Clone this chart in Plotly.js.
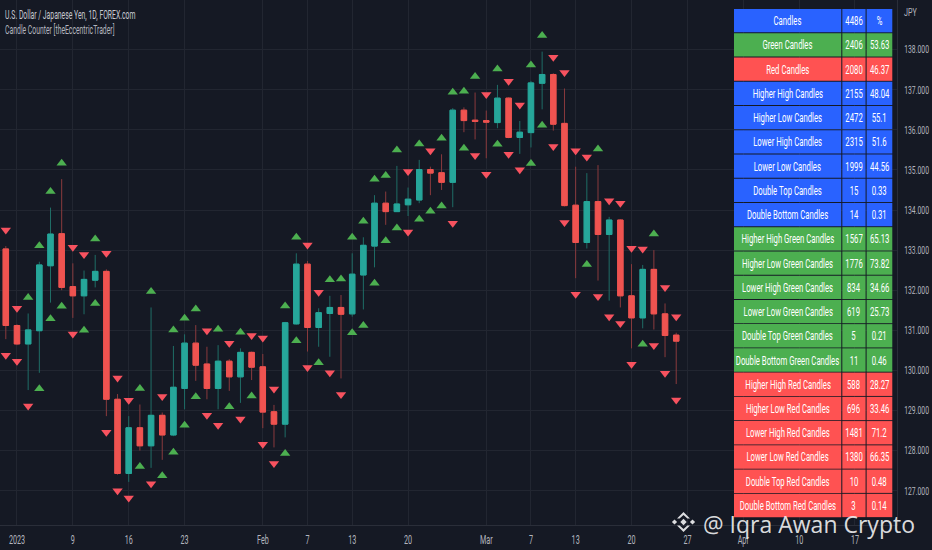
<!DOCTYPE html>
<html>
<head>
<meta charset="utf-8">
<script src="https://cdn.plot.ly/plotly-3.0.1.min.js"></script>
<style>
  html, body { margin: 0; padding: 0; background: #151924; }
  #chart { width: 932px; height: 550px; }
</style>
</head>
<body>
<div id="chart"></div>
<script>
// ---------------- DATA ----------------
const dates = ['2022-12-30',
  '2023-01-02','2023-01-03','2023-01-04','2023-01-05','2023-01-06',
  '2023-01-09','2023-01-10','2023-01-11','2023-01-12','2023-01-13',
  '2023-01-16','2023-01-17','2023-01-18','2023-01-19','2023-01-20',
  '2023-01-23','2023-01-24','2023-01-25','2023-01-26','2023-01-27',
  '2023-01-30','2023-01-31','2023-02-01','2023-02-02','2023-02-03',
  '2023-02-06','2023-02-07','2023-02-08','2023-02-09','2023-02-10',
  '2023-02-13','2023-02-14','2023-02-15','2023-02-16','2023-02-17',
  '2023-02-20','2023-02-21','2023-02-22','2023-02-23','2023-02-24',
  '2023-02-27','2023-02-28','2023-03-01','2023-03-02','2023-03-03',
  '2023-03-06','2023-03-07','2023-03-08','2023-03-09','2023-03-10',
  '2023-03-13','2023-03-14','2023-03-15','2023-03-16','2023-03-17',
  '2023-03-20','2023-03-21','2023-03-22','2023-03-23','2023-03-24'];

const open = [133.03,131.12,130.66,130.99,132.61,133.41,132.09,131.86,132.25,132.47,
  129.28,127.43,128.57,128.12,128.88,128.39,129.55,130.68,130.16,129.55,
  130.23,129.84,130.45,130.09,128.97,128.66,131.16,132.65,131.07,131.42,
  131.57,131.41,132.38,133.10,134.17,133.96,134.13,134.25,135.01,134.93,
  134.69,136.49,136.24,136.23,136.18,136.79,135.81,135.93,137.16,137.38,
  136.16,134.12,133.19,134.21,133.39,133.75,131.86,131.31,132.52,131.41,130.88];
const high = [133.10,131.15,131.42,132.71,134.06,134.77,132.67,132.49,132.88,132.52,
  129.41,128.86,129.15,131.57,128.95,130.61,130.90,131.13,130.59,130.63,
  130.28,130.55,130.47,130.41,129.14,131.21,132.92,132.73,131.55,131.86,
  131.88,132.92,133.32,134.37,134.46,135.10,134.56,135.25,135.08,135.39,
  136.54,136.56,136.93,136.48,137.12,136.81,136.22,137.22,137.95,137.41,
  137.03,135.08,134.92,135.12,133.83,133.77,132.65,132.63,133.00,131.67,130.94];
const low = [130.78,130.63,129.51,129.94,131.69,132.00,131.31,131.40,132.07,128.86,
  127.40,127.22,128.00,127.57,127.77,128.36,129.03,129.74,129.28,129.03,
  129.49,129.19,129.76,128.56,128.08,128.33,131.14,130.47,130.59,130.34,
  129.80,131.34,131.52,132.57,133.63,133.95,133.85,134.17,134.37,134.50,
  134.07,135.94,135.76,135.29,136.04,135.79,135.40,135.56,136.51,135.98,
  134.09,132.30,133.04,132.24,131.74,131.57,130.55,131.05,131.02,130.33,129.66];
const close = [131.12,130.66,131.01,132.63,133.40,132.07,131.86,132.27,132.47,129.28,
  127.43,128.57,128.12,128.88,128.39,129.58,130.68,130.13,129.55,130.23,
  129.84,130.45,130.08,128.96,128.66,131.19,132.65,131.07,131.44,131.57,
  131.40,132.40,133.12,134.17,133.96,134.15,134.27,135.01,134.92,134.69,
  136.49,136.23,136.21,136.19,136.79,135.81,135.94,137.17,137.38,136.14,
  134.11,133.19,134.21,133.39,133.75,131.86,131.31,132.52,131.41,130.87,130.73];

// marker above each bar: HH = higher high (green up), LH = lower high (red down)
const topMark = ['LH','LH','HH','HH','HH','HH','LH','LH','HH','LH',
  'LH','LH','HH','HH','LH','HH','HH','HH','LH','HH',
  'LH','HH','LH','LH','LH','HH','HH','LH','LH','HH',
  'HH','HH','HH','HH','HH','HH','LH','HH','LH','HH',
  'HH','HH','HH','LH','HH','LH','LH','HH','HH','LH',
  'LH','LH','LH','HH','LH','LH','LH','LH','HH','LH','LH'];
// marker below each bar: HL = higher low (green up), LL = lower low (red down)
const botMark = ['LL','LL','LL','HL','HL','HL','LL','HL','HL','LL',
  'LL','LL','HL','LL','HL','HL','HL','HL','LL','LL',
  'HL','LL','HL','LL','LL','HL','HL','LL','HL','LL',
  'LL','HL','HL','HL','HL','HL','LL','HL','HL','HL',
  'LL','HL','LL','LL','HL','LL','LL','HL','HL','LL',
  'LL','LL','HL','LL','LL','LL','LL','HL','LL','LL','LL'];

const tickDates = ['2023-01-02','2023-01-09','2023-01-16','2023-01-23','2023-02-01','2023-02-07',
  '2023-02-13','2023-02-20','2023-03-01','2023-03-07','2023-03-13','2023-03-20',
  '2023-03-27','2023-04-03','2023-04-10','2023-04-17'];
const tickLabels = ['2023','9','16','23','Feb','7','13','20','Mar','7','13','20','27','Apr','10','17'];
const priceTicks = [127,128,129,130,131,132,133,134,135,136,137,138];

const tableLabels = ['Candles','Green Candles','Red Candles','Higher High Candles','Higher Low Candles',
  'Lower High Candles','Lower Low Candles','Double Top Candles','Double Bottom Candles',
  'Higher High Green Candles','Higher Low Green Candles','Lower High Green Candles','Lower Low Green Candles',
  'Double Top Green Candles','Double Bottom Green Candles','Higher High Red Candles','Higher Low Red Candles',
  'Lower High Red Candles','Lower Low Red Candles','Double Top Red Candles','Double Bottom Red Candles'];
const tableCounts = ['4486','2406','2080','2155','2472','2315','1999','15','14','1567','1776','834','619','5','11',
  '588','696','1481','1380','10','3'];
const tablePcts = ['%','53.63','46.37','48.04','55.1','51.6','44.56','0.33','0.31','65.13','73.82','34.66','25.73',
  '0.21','0.46','28.27','33.46','71.2','66.35','0.48','0.14'];
const tableGroups = ['all','green','red','all','all','all','all','all','all',
  'green','green','green','green','green','green','red','red','red','red','red','red'];

// ---------------- STYLE ----------------
const BG = '#151924';
const GRID = '#222631';
const UP = '#26a69a', DOWN = '#ef5350';
const UP_WICK = '#1f6d66', DOWN_WICK = '#8a3a3d';
const TRI_G = '#4caf50', TRI_R = '#f7525f';
const GROUP_COLORS = { all: '#2962ff', green: '#4caf50', red: '#ff5252' };
const AXIS_TXT = '#b2b5be';

// plot area in pixels
const PL = 0, PR = 897, PT = 0, PB = 525;
const px2x = p => (p - PL) / (PR - PL);
const py2y = p => 1 - (p - PT) / (PB - PT);

const Y_RANGE = [126.145, 139.237];

// session (trading-day) index relative to first bar
function sessionIndex(d) {
  const t0 = Date.parse(dates[0] + 'T00:00:00Z');
  const t1 = Date.parse(d + 'T00:00:00Z');
  let n = 0;
  for (let t = t0; t < t1; t += 86400000) {
    const wd = new Date(t + 86400000).getUTCDay();
    if (wd !== 0 && wd !== 6) n++;
  }
  return n;
}
const xs = dates.map(sessionIndex);
const tickvals = tickDates.map(sessionIndex);

// ---------------- TRACES ----------------
const pxPerUnit = (PB - PT) / (Y_RANGE[1] - Y_RANGE[0]);
const markOff = 16 / pxPerUnit;

const wickTrace = {
  type: 'candlestick', x: xs, open: open, high: high, low: low, close: close,
  increasing: { line: { color: UP_WICK, width: 1 }, fillcolor: UP_WICK },
  decreasing: { line: { color: DOWN_WICK, width: 1 }, fillcolor: DOWN_WICK },
  whiskerwidth: 0, hoverinfo: 'skip', showlegend: false
};
const bodyTrace = {
  type: 'candlestick', x: xs, open: open, close: close,
  high: open.map((o, i) => Math.max(o, close[i])),
  low: open.map((o, i) => Math.min(o, close[i])),
  increasing: { line: { color: UP, width: 1 }, fillcolor: UP },
  decreasing: { line: { color: DOWN, width: 1 }, fillcolor: DOWN },
  whiskerwidth: 0, hoverinfo: 'skip', showlegend: false
};

function markerTrace(marks, key, arr, sign, symbol, color) {
  const x = [], y = [];
  marks.forEach((m, i) => { if (m === key) { x.push(xs[i]); y.push(arr[i] + sign * markOff); } });
  return { type: 'scatter', mode: 'markers', x: x, y: y, hoverinfo: 'skip', showlegend: false,
    marker: { symbol: symbol, size: 9, color: color, line: { width: 0 } } };
}
const traces = [
  wickTrace, bodyTrace,
  markerTrace(topMark, 'HH', high, 1, 'triangle-up', TRI_G),
  markerTrace(topMark, 'LH', high, 1, 'triangle-down', TRI_R),
  markerTrace(botMark, 'HL', low, -1, 'triangle-up', TRI_G),
  markerTrace(botMark, 'LL', low, -1, 'triangle-down', TRI_R)
];

// ---------------- TABLE + TEXT ----------------
const shapes = [];
const annotations = [];
const squeezeSpec = [];
function addAnn(a, squeeze) { annotations.push(a); squeezeSpec.push(squeeze || null); }

const TBL_TOP = 9, ROW_H = 24.24;
const cols = [[734, 841.3], [842.3, 865.6], [866.6, 892.3]];
tableLabels.forEach((lab, i) => {
  const top = TBL_TOP + i * ROW_H, bot = top + ROW_H - 0.9;
  const col = GROUP_COLORS[tableGroups[i]];
  const texts = [lab, tableCounts[i], tablePcts[i]];
  cols.forEach((c, j) => {
    shapes.push({ type: 'rect', xref: 'paper', yref: 'paper', layer: 'above',
      x0: px2x(c[0]), x1: px2x(c[1]), y0: py2y(bot), y1: py2y(top),
      fillcolor: col, line: { width: 0 } });
    addAnn({ xref: 'paper', yref: 'paper', x: px2x((c[0] + c[1]) / 2), y: py2y((top + bot) / 2),
      xanchor: 'center', yanchor: 'middle', showarrow: false, text: texts[j],
      font: { family: 'Roboto, sans-serif', size: 12.5, color: '#ffffff' } }, { s: 0.62, a: 'middle' });
  });
});

addAnn({ xref: 'paper', yref: 'paper', x: px2x(3), y: py2y(15.5), xanchor: 'left', yanchor: 'middle',
  showarrow: false, text: 'U.S. Dollar / Japanese Yen, 1D, FOREX.com',
  font: { family: 'Roboto, sans-serif', size: 12, color: '#c5c8d0' } }, { s: 0.57, a: 'start' });
addAnn({ xref: 'paper', yref: 'paper', x: px2x(3), y: py2y(30.5), xanchor: 'left', yanchor: 'middle',
  showarrow: false, text: 'Candle Counter [theEccentricTrader]',
  font: { family: 'Roboto, sans-serif', size: 12, color: '#b2b5be' } }, { s: 0.57, a: 'start' });
addAnn({ xref: 'paper', yref: 'paper', x: px2x(902), y: py2y(12), xanchor: 'left', yanchor: 'middle',
  showarrow: false, text: 'JPY',
  font: { family: 'Roboto, sans-serif', size: 11, color: AXIS_TXT } }, { s: 0.65, a: 'start' });

// watermark
addAnn({ xref: 'paper', yref: 'paper', x: px2x(701), y: py2y(524), xanchor: 'left', yanchor: 'middle',
  showarrow: false, text: '@ Iqra Awan Crypto',
  font: { family: 'Open Sans, sans-serif', size: 23, color: 'rgba(238,238,240,0.92)' } }, null);
// logo (diamonds)
function diamond(cx, cy, r) {
  return `M${px2x(cx - r)},${py2y(cy)} L${px2x(cx)},${py2y(cy - r)} L${px2x(cx + r)},${py2y(cy)} L${px2x(cx)},${py2y(cy + r)} Z`;
}
function chevron(cx, cy, r, t, dir) {
  const p = (x, y) => `${px2x(x)},${py2y(y)}`;
  const a = [cx - r, cy], b = [cx, cy + dir * r], c = [cx + r, cy];
  return `M${p(a[0], a[1])} L${p(b[0], b[1])} L${p(c[0], c[1])} L${p(c[0] - t, c[1])} L${p(b[0], b[1] - dir * t * 1.2)} L${p(a[0] + t, a[1])} Z`;
}
const LOGO_C = [683.5, 522];
[diamond(LOGO_C[0], LOGO_C[1], 3.2), diamond(LOGO_C[0] - 9, LOGO_C[1], 2.6), diamond(LOGO_C[0] + 9, LOGO_C[1], 2.6),
 chevron(LOGO_C[0], LOGO_C[1] - 3.5, 6.5, 2.6, -1), chevron(LOGO_C[0], LOGO_C[1] + 3.5, 6.5, 2.6, 1)]
  .forEach(path => shapes.push({ type: 'path', xref: 'paper', yref: 'paper', layer: 'above', path: path,
    fillcolor: 'rgba(238,238,240,0.92)', line: { width: 0 } }));

// ---------------- LAYOUT ----------------
const layout = {
  width: 932, height: 550,
  margin: { l: PL, r: 932 - PR, t: PT, b: 550 - PB, pad: 0 },
  paper_bgcolor: BG, plot_bgcolor: BG,
  showlegend: false, hovermode: false,
  boxgap: 0.3,
  xaxis: {
    type: 'linear', range: [-0.52, 79.76], rangeslider: { visible: false },
    tickmode: 'array', tickvals: tickvals, ticktext: tickLabels,
    showgrid: true, gridcolor: GRID, gridwidth: 1, zeroline: false,
    showline: true, linecolor: '#2a2e39', linewidth: 1, ticks: '', ticklabelstandoff: 4,
    tickfont: { family: 'Roboto, sans-serif', size: 12, color: AXIS_TXT }, fixedrange: true
  },
  yaxis: {
    side: 'right', range: Y_RANGE, tickmode: 'array', tickvals: priceTicks, tickformat: '.3f',
    showgrid: true, gridcolor: GRID, gridwidth: 1, zeroline: false,
    showline: true, linecolor: '#2a2e39', linewidth: 1, ticks: '', ticklabelstandoff: 4,
    tickfont: { family: 'Roboto, sans-serif', size: 11, color: AXIS_TXT }, fixedrange: true
  },
  shapes: shapes,
  annotations: annotations
};

function squeeze(el, s, anchor) {
  if (!el) return;
  const b = el.getBBox();
  const ax = anchor === 'start' ? b.x : (anchor === 'end' ? b.x + b.width : b.x + b.width / 2);
  const prev = el.getAttribute('transform') || '';
  el.setAttribute('transform', `${prev} translate(${ax},0) scale(${s},1) translate(${-ax},0)`);
}

Plotly.newPlot('chart', traces, layout, { staticPlot: true, displayModeBar: false }).then(gd => {
  squeezeSpec.forEach((sp, i) => {
    if (!sp) return;
    squeeze(gd.querySelector(`g.annotation[data-index="${i}"] text.annotation-text`), sp.s, sp.a);
  });
  gd.querySelectorAll('.ytick text').forEach(t => squeeze(t, 0.62, 'start'));
  gd.querySelectorAll('.xtick text').forEach(t => squeeze(t, 0.6, 'middle'));
});
</script>
</body>
</html>
